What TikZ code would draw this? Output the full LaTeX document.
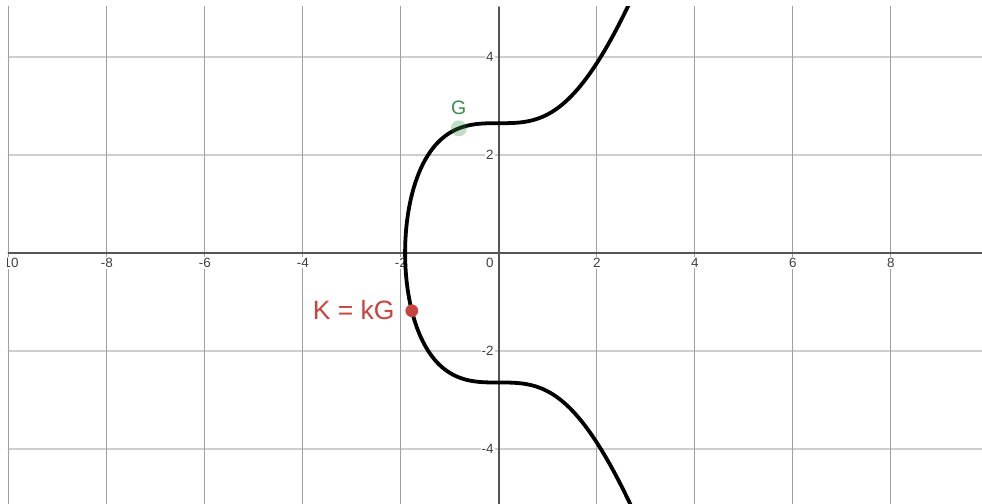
\documentclass[tikz,border=0pt]{standalone}
\usepackage{fontspec}
\setmainfont{Liberation Sans}
\usetikzlibrary{calc}
\definecolor{pointred}{RGB}{199,68,64}
\definecolor{pointgreen}{RGB}{56,140,70}
\definecolor{axisgray}{RGB}{85,85,85}
\definecolor{vgridgray}{RGB}{160,160,160}
\definecolor{hgridgray}{RGB}{205,205,205}

\begin{document}
\begin{tikzpicture}[x=1cm, y=1cm,
    ticklabel/.style={font=\fontsize{7.8}{9}\selectfont, text=black!75, fill=white, inner sep=0.6pt},
    curveline/.style={draw, line width=2.2pt, line join=round, line cap=round}]
                \useasboundingbox[fill=white] (-10.18,-5.12) rectangle (9.86,5.16);
                \coordinate(Xmin)at(-10.3,0);
                \coordinate(Xmax)at(9.95,0);
                \coordinate(Ymin)at(0,-5.3);
                \coordinate(Ymax)at(0,5.02);
                \coordinate(G)at(-0.816,2.541);
                \coordinate(K)at(-1.776,-1.182);

                \begin{scope}
                \clip (-10.02,-5.2) rectangle (9.95,5.02);
                \path[draw, hgridgray, line width=0.8pt] (-12,-6) grid[xstep=40, ystep=2] (12,6);
                \path[draw, vgridgray, line width=0.45pt] (-12,-6) grid[xstep=2, ystep=40] (12,6);
                \path[draw, axisgray, line width=1.1pt](Xmin)to(Xmax);
                \path[draw, axisgray, line width=1.1pt](Ymin)to(Ymax);
                \foreach \x in {-10,-8,-6,-4,-2,2,4,6,8}
                    \node[ticklabel, anchor=north](xtick\x)at(\x,-0.08){\x};
                \foreach \y in {-4,-2,2,4}
                    \node[ticklabel, anchor=east](ytick\y)at(-0.08,\y){\y};
                \node[ticklabel, anchor=north east](origin)at(-0.08,-0.08){0};

                \path[curveline]
                    plot[domain=2.9:-1.44225, samples=90, smooth, variable=\t] ({\t},{-sqrt(\t*\t*\t+7)})
                    -- plot[domain=-2:2, samples=50, smooth, variable=\t] ({-pow(7-\t*\t,1/3)},{\t})
                    -- plot[domain=-1.44225:2.9, samples=90, smooth, variable=\t] ({\t},{sqrt(\t*\t*\t+7)});

                \path[fill=pointgreen, fill opacity=0.3](G)circle(0.163);
                \node[text=pointgreen, font=\fontsize{11.3}{13}\selectfont, inner sep=0pt](Glabel)at(-0.82,2.96){G};
                \path[fill=pointred](K)circle(0.13);
                \node[text=pointred, font=\fontsize{15.4}{18}\selectfont, anchor=east, inner sep=0pt](Klabel)at(-2.12,-1.17){K = kG};
                \end{scope}
            \end{tikzpicture}
\end{document}
